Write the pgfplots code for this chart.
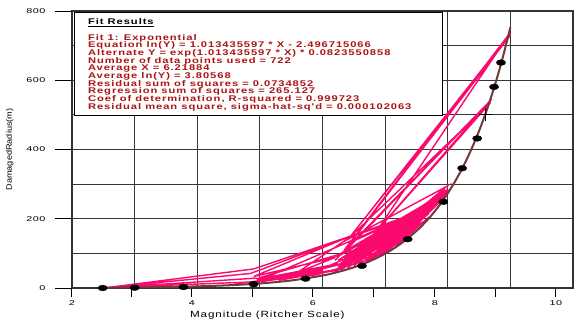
\documentclass[border=0pt]{standalone}
\usepackage{pgfplots}
\pgfplotsset{compat=1.18}
\usepackage{fontspec}
\setmainfont{Liberation Sans}
\newfontfamily\tickfont{Liberation Sans}[FakeStretch=1.55, LetterSpace=8]
\newfontfamily\labfont{Liberation Sans}[FakeStretch=1.3, LetterSpace=10]
\newfontfamily\ylabfont{Liberation Sans}[FakeStretch=1.15]
\newfontfamily\fitfont{Liberation Sans}[FakeStretch=1.35, LetterSpace=11.5]
\definecolor{pinkc}{RGB}{250,10,110}
\definecolor{brownc}{RGB}{110,58,58}
\definecolor{fitred}{RGB}{170,20,20}
\definecolor{gridc}{RGB}{55,55,55}

\begin{document}
\lineskiplimit=-20pt
\lineskip=0pt
\begin{tikzpicture}
\useasboundingbox (-72bp,-35bp) rectangle (508bp,288bp);
% grid-only axis
\begin{axis}[
 at={(0,0)}, anchor=south west,
 scale only axis, width=501bp, height=277bp,
 xmin=2, xmax=10, ymin=0, ymax=800,
 axis line style={black!80, line width=1.1bp},
 xtick={2,3,4,5,6,7,8,9,10}, ytick={0,100,200,300,400,500,600,700,800},
 ticklabel style={text opacity=0, opacity=0},
 major tick length=0pt,
 grid=major,
 major grid style={gridc, line width=1.1bp},
]
\end{axis}
% main axis
\begin{axis}[
 at={(0,0)}, anchor=south west,
 scale only axis, width=501bp, height=277bp,
 xmin=2, xmax=10, ymin=0, ymax=800,
 axis line style={black!80, line width=1.1bp},
 tick style={black, line width=1bp},
 grid=none,
 xtick={2,2.958,3.916,4.890,5.848,6.822,7.796,8.770,9.728},
 xticklabels={2,,4,,6,,8,,10},
 ytick={0,200,400,600,800},
 yticklabels={0,200,400,600,800},
 tick align=outside, major tick length=9bp,
 xtick pos=left, ytick pos=left,
 extra y ticks={0,200,400,600,800},
 extra y tick labels={,,,,},
 extra y tick style={major tick length=17bp},
 ticklabel style={font=\tickfont\fontsize{7}{8}\selectfont},
 /pgf/number format/assume math mode=true,
 yticklabel style={xshift=-14bp},
 xlabel={Magnitude (Ritcher Scale)},
 ylabel={DamagedRadius(m)},
 xlabel style={font=\labfont\fontsize{9}{10}\selectfont, at={(axis description cs:0.39,-0.0975)}, anchor=center},
 ylabel style={font=\ylabfont\fontsize{8}{9}\selectfont, at={(axis description cs:-0.124,0.5)}, anchor=center},
 clip=false,
]
% pink connected data trace
\addplot[pinkc, line width=1.4bp, sharp plot] coordinates {
(2.5,1) (4.95,18) (2.55,1) (4.9,55) (6.45,150) (4.85,42) (2.5,0) (4.9,28)
(5.5,30) (6.2,50) (7.95,265) (6.25,80) (8.0,285) (6.3,60) (7.7,225) (6.2,90)
(7.98,278) (6.5,70) (7.5,190) (6.4,85) (7.9,262) (6.6,130) (7.4,205) (6.8,90)
(7.95,275) (6.6,110) (7.8,245) (7.0,110) (7.6,230) (6.9,150) (8.0,280) (7.2,130)
(7.9,255) (6.55,140) (7.4,210) (6.45,150) (4.9,33) (6.2,88) (5.6,45) (6.45,148)
(7.4,206) (7.98,293) (6.4,140) (8.68,535) (6.55,100) (8.7,545) (6.2,80) (8.68,540)
(6.3,95) (9.0,735) (6.45,150) (9.0,730) (6.35,110) (9.0,738) (6.7,120) (5.0,30)
(6.0,50) (5.2,25) (6.3,70) (7.1,115) (7.3,160) (7.6,200) (7.1,140) (7.85,250)
(6.9,100) (7.5,175) (5.8,40) (4.6,12) (5.9,38) (6.8,85) (7.7,215)
(6.2,46) (8.0,276) (6.3,52) (7.95,268) (6.4,58) (7.9,258) (6.5,64) (7.85,250)
(6.6,68) (7.8,240) (6.7,75) (7.7,222) (6.8,82) (7.6,206) (6.9,90) (7.5,190)
(7.0,100) (7.8,235) (6.25,60) (7.3,150) (6.35,75) (7.98,282) (6.5,90) (7.9,270)
(6.7,100) (8.0,283) (6.28,70) (7.6,215) (6.45,100) (7.75,240) (6.6,120) (7.92,272)
(6.35,85) (7.2,160) (6.8,120) (7.65,215) (7.05,125) (7.95,285) (7.2,128) (7.85,245)
(4.9,15) (6.2,50) (4.95,25) (6.25,70) (5.0,20) (6.3,55) (5.3,22) (6.1,60)
(6.9,95) (7.3,140) (6.7,85) (7.45,170) (6.95,120) (7.55,185) (7.15,115) (7.7,205)
};
% exponential fit curve
\addplot[brownc, line width=2bp, smooth] coordinates {
(2.5,1.04) (3.0,1.72) (3.5,2.86) (4.0,4.75) (4.5,7.88) (5.0,13.07) (5.5,21.70)
(6.0,36.02) (6.25,46.41) (6.5,59.79) (6.75,77.03) (7.0,99.23) (7.25,127.8)
(7.5,164.7) (7.625,186.9) (7.75,212.2) (7.875,240.8) (8.0,273.3) (8.125,310.3)
(8.25,352.1) (8.375,399.7) (8.5,453.6) (8.625,514.9) (8.75,584.4) (8.875,663.4) (9.0,752.8)
};
% data points
\addplot[only marks, mark=*, mark size=2.9bp, mark options={xscale=1.6, fill=black, draw=black}] coordinates {
(2.49,0) (3.0,1) (3.78,3) (4.9,11) (5.73,27) (6.63,64) (7.36,141) (7.93,249)
(8.23,346) (8.47,432) (8.74,581) (8.85,651)
};
\addplot[only marks, mark=+, mark size=6.5bp, mark options={line width=1bp, black}] coordinates {(8.61,502)};
% fit results box
\node[draw=black, line width=1bp, fill=white, anchor=north west, minimum width=368bp, minimum height=103bp, inner sep=0pt] (box) at (axis cs:2.03,797) {};
\node[anchor=north west, align=left, inner sep=0pt, font=\fitfont\bfseries\fontsize{8.3}{7.7}\selectfont, text=fitred] at ([xshift=14bp,yshift=-6.5bp]box.north west) {\textcolor{black}{\underline{Fit Results}}\\[7.7bp]
Fit 1: Exponential\\
Equation ln(Y) = 1.013435597 * X - 2.496715066\\
Alternate Y = exp(1.013435597 * X) * 0.0823550858\\
Number of data points used = 722\\
Average X = 6.21884\\
Average ln(Y) = 3.80568\\
Residual sum of squares = 0.0734852\\
Regression sum of squares = 265.127\\
Coef of determination, R-squared = 0.999723\\
Residual mean square, sigma-hat-sq'd = 0.000102063};
\end{axis}
\end{tikzpicture}
\end{document}
